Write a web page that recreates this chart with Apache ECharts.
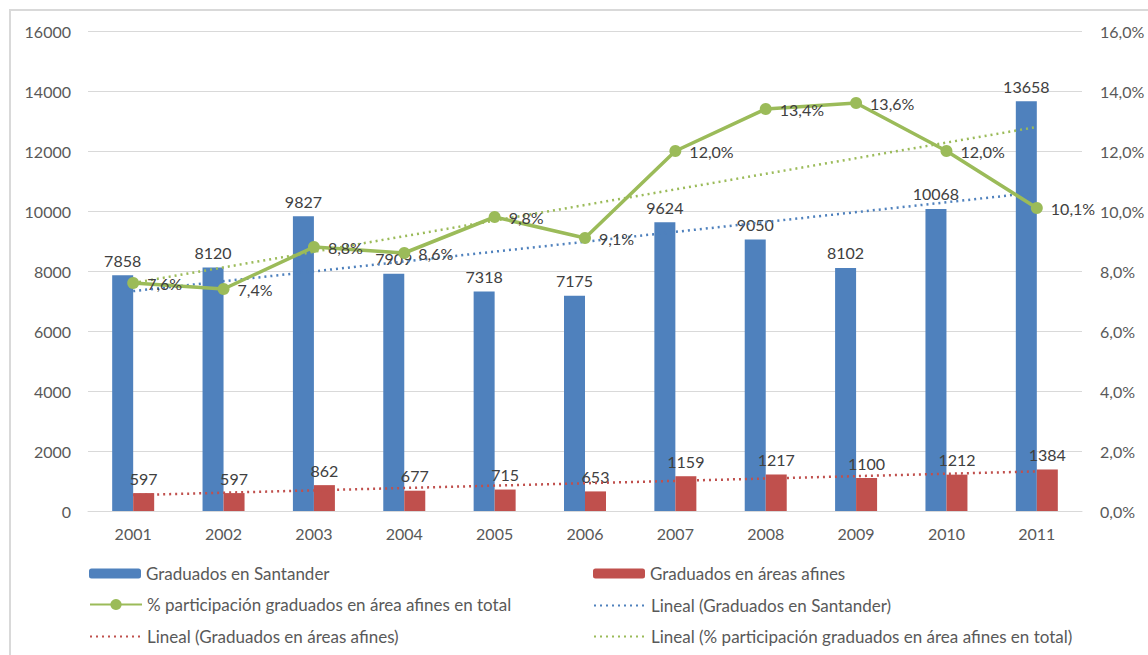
<!DOCTYPE html>
<html>
<head>
<meta charset="utf-8">
<script src="https://cdn.jsdelivr.net/npm/echarts@6/dist/echarts.min.js"></script>
<style>
  html, body { margin: 0; padding: 0; background: #fff; overflow: hidden; }
  #frame { position: absolute; left: 9px; top: 9px; width: 1200px; height: 700px; border: 2px solid #d9d9d9; }
  #chart { position: absolute; left: 0; top: 0; width: 1148px; height: 655px; }
</style>
</head>
<body>
<div id="frame"></div>
<div id="chart"></div>
<script>
var years = ['2001', '2002', '2003', '2004', '2005', '2006', '2007', '2008', '2009', '2010', '2011'];
var santander = [7858, 8120, 9827, 7909, 7318, 7175, 9624, 9050, 8102, 10068, 13658];
var afines = [597, 597, 862, 677, 715, 653, 1159, 1217, 1100, 1212, 1384];
var participacion = [7.6, 7.4, 8.8, 8.6, 9.8, 9.1, 12.0, 13.4, 13.6, 12.0, 10.1];
// trend line end points (first and last year)
var trendSantander = [7330, 10620];
var trendAfines = [530, 1320];
var trendParticipacion = [7.6, 12.8];

var blue = '#4f81bd', red = '#c0504d', green = '#9bbb59';
var ink = '#404040', muted = '#595959', rule = '#d9d9d9';
var font = 'Lato, "Open Sans", sans-serif';

var names = [
  'Graduados en Santander',
  'Graduados en áreas afines',
  '% participación graduados en área afines en total',
  'Lineal (Graduados en Santander)',
  'Lineal (Graduados en áreas afines)',
  'Lineal (% participación graduados en área afines en total)'
];

function ends(pair) {
  return [[0, pair[0]], [years.length - 1, pair[1]]];
}

function legendAt(name, left, top, h, hideDot) {
  var l = {
    data: [name], left: left, top: top,
    itemWidth: 52, itemHeight: h, itemGap: 6,
    textStyle: { color: muted, fontSize: 17, fontFamily: font }
  };
  if (hideDot) l.itemStyle = { opacity: 0 };
  return l;
}

var chart = echarts.init(document.getElementById('chart'), null, { renderer: 'svg' });
chart.setOption({
  animation: false,
  backgroundColor: 'transparent',
  textStyle: { fontFamily: font },
  legend: [
    legendAt(names[0], 84, 560, 10),
    legendAt(names[1], 588, 560, 10),
    legendAt(names[2], 84, 591, 14),
    legendAt(names[3], 588, 592, 10, true),
    legendAt(names[4], 84, 623, 10, true),
    legendAt(names[5], 588, 623, 10, true)
  ],
  grid: { left: 88, right: 66, top: 31, bottom: 144 },
  xAxis: {
    type: 'category',
    data: years,
    axisLine: { lineStyle: { color: rule } },
    axisTick: { show: false },
    axisLabel: { color: muted, fontSize: 16, margin: 14, fontFamily: font }
  },
  yAxis: [
    {
      type: 'value', min: 0, max: 16000, interval: 2000,
      axisLine: { show: false }, axisTick: { show: false },
      splitLine: { lineStyle: { color: rule } },
      axisLabel: { color: muted, fontSize: 16, margin: 17, fontFamily: font,
        formatter: function(v) { return String(v); } }
    },
    {
      type: 'value', min: 0, max: 16, interval: 2,
      axisLine: { show: false }, axisTick: { show: false },
      splitLine: { show: false },
      axisLabel: {
        color: muted, fontSize: 16, margin: 18, fontFamily: font,
        formatter: function(v) { return v.toFixed(1).replace('.', ',') + '%'; }
      }
    }
  ],
  series: [
    {
      name: names[0], type: 'bar', data: santander, barWidth: 21, barGap: '0%',
      itemStyle: { color: blue },
      label: { show: true, position: 'top', distance: 7, color: ink, fontSize: 16, fontFamily: font }
    },
    {
      name: names[1], type: 'bar', data: afines, barWidth: 21,
      itemStyle: { color: red },
      label: { show: true, position: 'top', distance: 7, color: ink, fontSize: 16, fontFamily: font }
    },
    {
      name: names[3], type: 'line', data: ends(trendSantander), symbol: 'none', z: 3,
      lineStyle: { color: blue, width: 2.5, type: [2, 4] }, itemStyle: { color: blue }
    },
    {
      name: names[4], type: 'line', data: ends(trendAfines), symbol: 'none', z: 3,
      lineStyle: { color: red, width: 2.5, type: [2, 4] }, itemStyle: { color: red }
    },
    {
      name: names[5], type: 'line', yAxisIndex: 1, data: ends(trendParticipacion), symbol: 'none', z: 3,
      lineStyle: { color: green, width: 2.5, type: [2, 4] }, itemStyle: { color: green }
    },
    {
      name: names[2], type: 'line', yAxisIndex: 1, data: participacion, z: 4,
      symbol: 'circle', symbolSize: 12,
      lineStyle: { color: green, width: 3.5 }, itemStyle: { color: green },
      label: {
        show: true, position: 'right', distance: 8, color: ink, fontSize: 16, fontFamily: font,
        formatter: function(p) { return p.value.toFixed(1).replace('.', ',') + '%'; }
      }
    }
  ]
});
</script>
</body>
</html>
